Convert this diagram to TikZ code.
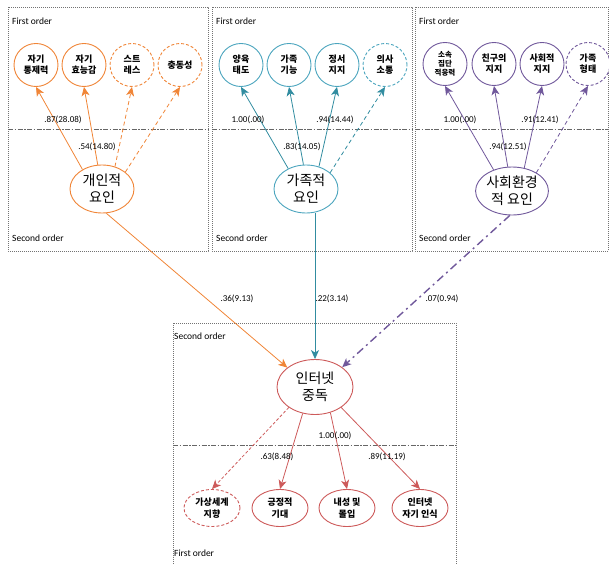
\documentclass[tikz,border=0pt]{standalone}
\usepackage{fontspec}
\setmainfont{Carlito}
\newfontfamily\kr{Noto Sans CJK KR}
\usetikzlibrary{arrows.meta,shapes.geometric}
\definecolor{orng}{RGB}{240,133,55}
\definecolor{tealL}{RGB}{49,140,160}
\definecolor{tealE}{RGB}{75,165,190}
\definecolor{purp}{RGB}{112,88,155}
\definecolor{redd}{RGB}{205,90,90}
\tikzset{
  boxline/.style={draw=black!55, line width=0.8pt, dash pattern=on 0.8pt off 1.2pt},
  sepline/.style={draw=black!60, line width=0.9pt, dash pattern=on 5pt off 1.5pt on 1.5pt off 1.5pt},
  ell/.style={ellipse, draw, line width=0.9pt, inner sep=0pt, align=center, fill=white},
  sm/.style={ell, minimum width=44pt, minimum height=43pt, font=\kr\bfseries\fontsize{9}{11}\selectfont},
  smt/.style={ell, minimum width=44pt, minimum height=43pt, font=\kr\bfseries\fontsize{7.5}{9}\selectfont},
  big/.style={ell, minimum width=64pt, minimum height=48pt, font=\kr\fontsize{14}{17}\selectfont},
  bigi/.style={ell, minimum width=76pt, minimum height=55pt, font=\kr\fontsize{14}{17}\selectfont},
  bot/.style={ell, minimum width=56pt, minimum height=37pt, font=\kr\bfseries\fontsize{9}{11.5}\selectfont},
  dsh/.style={dash pattern=on 3pt off 2pt},
  lab/.style={font=\fontsize{9}{10}\selectfont, inner sep=0pt},
  ord/.style={font=\fontsize{9.5}{11}\selectfont, anchor=west, inner sep=0pt},
  arr/.style={-{Stealth[inset=2.5pt,length=9pt,width=8pt]}, line width=0.8pt},
  dashedarr/.style={arr, dash pattern=on 4pt off 3pt},
}
\begin{document}
\begin{tikzpicture}[x=1pt,y=-1pt]
\useasboundingbox (0,0) rectangle (609,564);
% boxes
\draw[boxline] (8,7) rectangle (208,251);
\draw[boxline] (212,7) rectangle (412,251);
\draw[boxline] (415,7) rectangle (608,251);
\draw[boxline] (173,564) -- (173,323) -- (456,323) -- (456,564);
\draw[sepline] (8,129) -- (208,129);
\draw[sepline] (212,129) -- (412,129);
\draw[sepline] (415,129) -- (608,129);
\draw[sepline] (173,445) -- (456,445);
% order labels
\node[ord] (fo1) at (12,21) {First order};
\node[ord] (fo2) at (216,21) {First order};
\node[ord] (fo3) at (419,21) {First order};
\node[ord] (so1) at (12,238) {Second order};
\node[ord] (so2) at (216,238) {Second order};
\node[ord] (so3) at (419,238) {Second order};
\node[ord] (so4) at (174,336) {Second order};
\node[ord] (fo4) at (174,553) {First order};
% box 1 (orange)
\begin{scope}[every node/.append style={draw=orng}]
\node[sm] (a1) at (36,65) {자기\\통제력};
\node[sm] (a2) at (84,65) {자기\\효능감};
\node[sm,dsh] (a3) at (132,65) {스트\\레스};
\node[sm,dsh] (a4) at (180,65) {충동성};
\node[big] (gi) at (102,189) {개인적\\요인};
\end{scope}
\draw[arr,orng] (gi.135) -- (a1.south);
\draw[arr,orng] (gi.100) -- (a2.south);
\draw[dashedarr,orng] (gi.60) -- (a3.south);
\draw[dashedarr,orng] (gi.36) -- (a4.south);
\node[lab] (l1) at (63,120) {.87(28.08)};
\node[lab] (l2) at (97,147) {.54(14.80)};
% box 2 (teal)
\begin{scope}[every node/.append style={draw=tealE}]
\node[sm] (b1) at (241,65) {양육\\태도};
\node[sm] (b2) at (289,65) {가족\\기능};
\node[sm] (b3) at (337,65) {정서\\지지};
\node[sm,dsh] (b4) at (385,65) {의사\\소통};
\node[big] (fj) at (306,189) {가족적\\요인};
\end{scope}
\draw[arr,tealL] (fj.131) -- (b1.south);
\draw[arr,tealL] (fj.96) -- (b2.south);
\draw[arr,tealL] (fj.60) -- (b3.south);
\draw[dashedarr,tealL] (fj.34) -- (b4.south);
\node[lab] (l3) at (248,120) {1.00(.00)};
\node[lab] (l4) at (302,147) {.83(14.05)};
\node[lab] (l5) at (335,120) {.94(14.44)};
% box 3 (purple)
\begin{scope}[every node/.append style={draw=purp}]
\node[smt] (c1) at (445,64) {소속\\집단\\적응력};
\node[sm] (c2) at (494,64) {친구의\\지지};
\node[sm] (c3) at (542,64) {사회적\\지지};
\node[sm,dsh] (c4) at (588,64) {가족\\형태};
\node[big] (se) at (512,191) {사회환경\\적 요인};
\end{scope}
\draw[arr,purp] (se.131) -- (c1.south);
\draw[arr,purp] (se.100) -- (c2.south);
\draw[arr,purp] (se.62) -- (c3.south);
\draw[dashedarr,purp] (se.37) -- (c4.south);
\node[lab] (l6) at (460,120) {1.00(.00)};
\node[lab] (l7) at (508,147) {.94(12.51)};
\node[lab] (l8) at (540,120) {.91(12.41)};
% internet addiction
\node[bigi,draw=redd] (ia) at (315,387) {인터넷\\중독};
\draw[arr,orng] (gi.-80) -- (ia.145);
\draw[arr,tealL] (ia.north |- fj.south) -- (ia.north);
\draw[arr,purp,line width=1.4pt,dash pattern=on 8pt off 4pt on 2pt off 4pt] (se.-95) -- (ia.36);
\node[lab] (l9) at (237,299) {.36(9.13)};
\node[lab] (l10) at (332,299) {.22(3.14)};
\node[lab] (l11) at (442,299) {.07(0.94)};
% bottom nodes
\begin{scope}[every node/.append style={draw=redd}]
\node[bot,dsh] (d1) at (212,508) {가상세계\\지향};
\node[bot] (d2) at (280,508) {긍정적\\기대};
\node[bot] (d3) at (347,508) {내성 및\\몰입};
\node[bot] (d4) at (420,508) {인터넷\\자기 인식};
\end{scope}
\draw[arr,redd,dash pattern=on 3pt off 2pt] (ia.-142) -- (d1.north);
\draw[arr,redd] (ia.-115) -- (d2.north);
\draw[arr,redd] (ia.-59) -- (d3.north);
\draw[arr,redd] (ia.-38) -- (d4.north);
\node[lab] (l12) at (335,436) {1.00(.00)};
\node[lab] (l13) at (277,457) {.63(8.48)};
\node[lab] (l14) at (387,457) {.89(11.19)};
\end{tikzpicture}
\end{document}
